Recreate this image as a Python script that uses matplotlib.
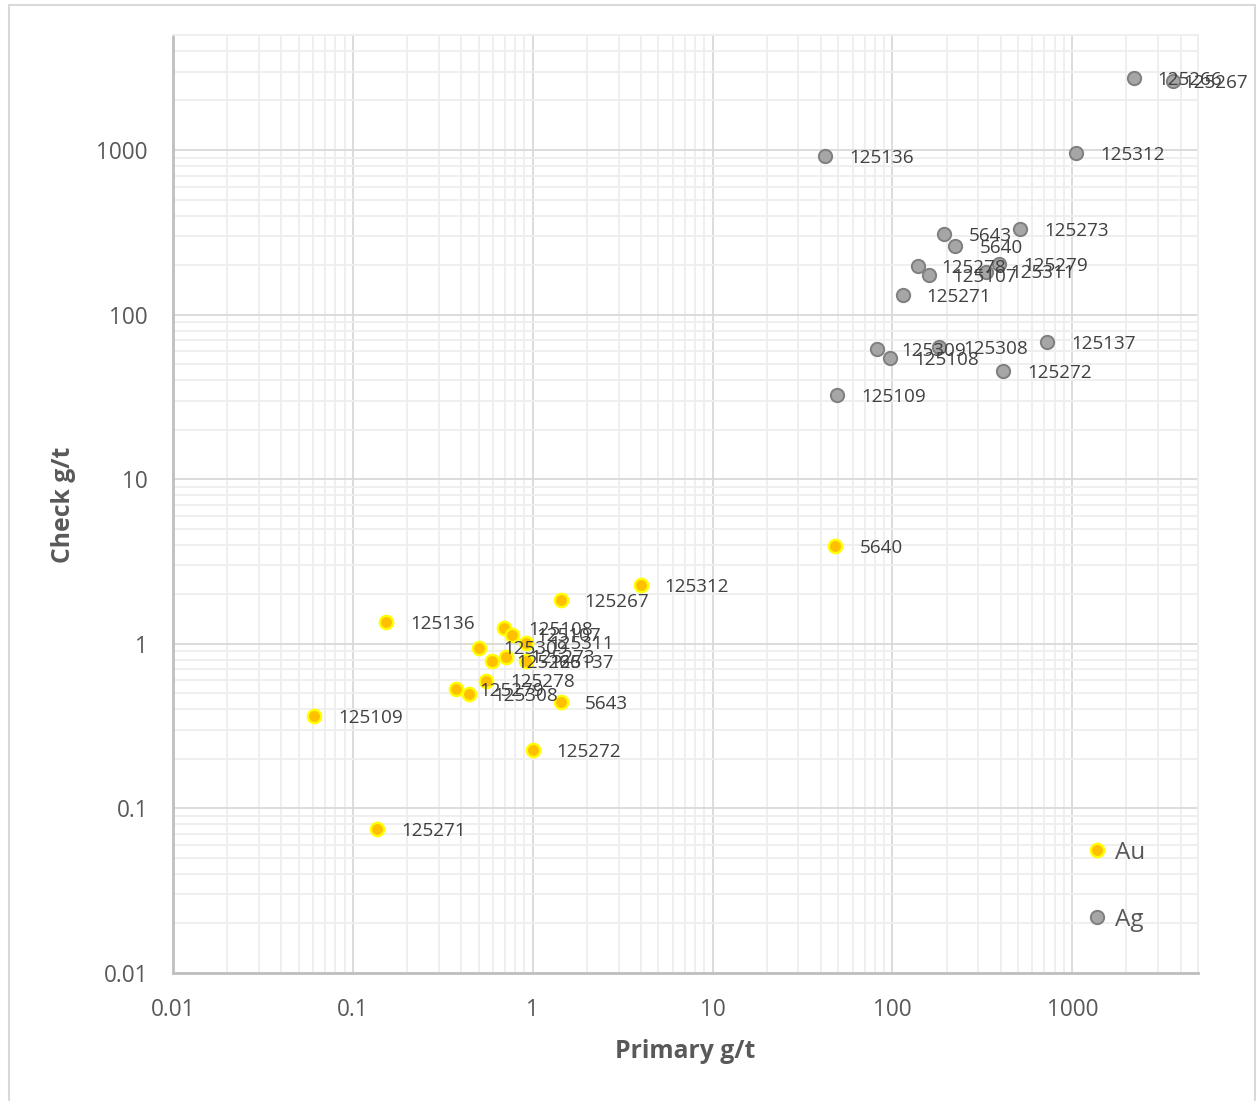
import matplotlib
matplotlib.use("Agg")
import matplotlib.pyplot as plt
from matplotlib.ticker import LogLocator, FuncFormatter, NullFormatter
from matplotlib.patches import Rectangle
from matplotlib.lines import Line2D

# Sample IDs and assay pairs (primary vs check), gold
au_ids = ["5640", "125312", "125267", "125136", "125109", "125271", "125272", "5643",
          "125108", "125107", "125311", "125309", "125273", "125266", "125137",
          "125278", "125279", "125308"]
au_primary = [48.2, 3.98, 1.43, 0.153, 0.0607, 0.136, 1.0, 1.44,
              0.694, 0.771, 0.914, 0.503, 0.714, 0.597, 0.914,
              0.553, 0.373, 0.443]
au_check = [3.93, 2.28, 1.84, 1.36, 0.364, 0.075, 0.226, 0.443,
            1.24, 1.136, 1.016, 0.947, 0.835, 0.786, 0.786,
            0.597, 0.529, 0.496]

# Silver
ag_ids = ["125266", "125267", "125136", "125312", "5643", "5640", "125273", "125278",
          "125107", "125279", "125311", "125271", "125309", "125108", "125308",
          "125137", "125272", "125109"]
ag_primary = [2192, 3640, 42.4, 1052, 194.5, 224, 514, 138,
              159, 393, 331, 114, 81.9, 97, 182,
              723, 414, 49.4]
ag_check = [2730, 2624, 918, 959, 309, 261, 330, 197,
            174, 202, 182, 131, 61.8, 54.2, 63.2,
            67.9, 45.4, 32.4]

tick_values = [0.01, 0.1, 1, 10, 100, 1000]
axis_min, axis_max = 0.01, 5000

FONT = "Open Sans"
TEXT = "#595959"
LABEL = "#404040"

W, H, DPI = 1257, 1101, 100
fig = plt.figure(figsize=(W / DPI, H / DPI), dpi=DPI)
fig.patch.set_facecolor("white")

# chart-area border
fig.patches.append(Rectangle((9 / W, -0.01), (1255 - 9) / W, 1 - 5 / H + 0.01,
                             transform=fig.transFigure, fill=False,
                             edgecolor="#d9d9d9", linewidth=1.5))

ax = fig.add_axes([173 / W, 1 - 973 / H, (1198 - 173) / W, (973 - 35) / H])
ax.set_xscale("log")
ax.set_yscale("log")
ax.set_xlim(axis_min, axis_max)
ax.set_ylim(axis_min, axis_max)

for axis in (ax.xaxis, ax.yaxis):
    axis.set_major_locator(LogLocator(base=10, numticks=20))
    axis.set_minor_locator(LogLocator(base=10, subs=range(2, 10), numticks=20))
    axis.set_minor_formatter(NullFormatter())
ax.set_xticks(tick_values)
ax.set_yticks(tick_values)
fmt = FuncFormatter(lambda v, p: f"{v:g}")
ax.xaxis.set_major_formatter(fmt)
ax.yaxis.set_major_formatter(fmt)

ax.grid(which="major", color="#d9d9d9", linewidth=1.3, zorder=0)
ax.grid(which="minor", color="#eeeeee", linewidth=1.3, zorder=0)
ax.set_axisbelow(True)
ax.tick_params(which="both", length=0)
ax.tick_params(axis="x", pad=18, labelsize=16.3, labelcolor=TEXT)
ax.tick_params(axis="y", pad=18, labelsize=16.3, labelcolor=TEXT)
for lab in ax.get_xticklabels() + ax.get_yticklabels():
    lab.set_fontfamily(FONT)

for side in ("top", "right"):
    ax.spines[side].set_color("#eeeeee")
    ax.spines[side].set_linewidth(1.3)
for side in ("left", "bottom"):
    ax.spines[side].set_color("#bfbfbf")
    ax.spines[side].set_linewidth(2)

ax.set_xlabel("Primary g/t", fontsize=17.8, fontweight="bold", color=TEXT, family=FONT)
ax.set_ylabel("Check g/t", fontsize=17.8, fontweight="bold", color=TEXT, family=FONT)
ax.xaxis.set_label_coords(0.5, -0.084)
ax.yaxis.set_label_coords(-0.107, 0.499)
ax.xaxis.label.set_va("center")
ax.yaxis.label.set_va("center")

ms = 92
ax.scatter(au_primary, au_check, s=ms, facecolor="#ffc000", edgecolor="#ffff00",
           linewidth=1.7, zorder=3, clip_on=False)
ax.scatter(ag_primary, ag_check, s=ms, facecolor="#a6a6a6", edgecolor="#7f7f7f",
           linewidth=1.4, zorder=3, clip_on=False)

annotations = []
for ids, xs, ys in ((au_ids, au_primary, au_check), (ag_ids, ag_primary, ag_check)):
    for name, x, y in zip(ids, xs, ys):
        a = ax.annotate(name, (x, y), xytext=(17.3, -1.2), textcoords="offset points",
                        ha="left", va="center", fontsize=13.6, family=FONT,
                        color=LABEL, zorder=5, annotation_clip=False)
        annotations.append(a)

# keep data labels inside the chart area
fig.canvas.draw()
renderer = fig.canvas.get_renderer()
right_limit = 1248
for a in annotations:
    bb = a.get_window_extent(renderer)
    if bb.x1 > right_limit:
        dx = (right_limit - bb.x1) * 72 / DPI
        ox, oy = a.xyann
        a.xyann = (ox + dx, oy)

handles = [
    Line2D([], [], linestyle="none", marker="o", markersize=9.6,
           markerfacecolor="#ffc000", markeredgecolor="#ffff00", markeredgewidth=1.7),
    Line2D([], [], linestyle="none", marker="o", markersize=9.6,
           markerfacecolor="#a6a6a6", markeredgecolor="#7f7f7f", markeredgewidth=1.4),
]
leg = ax.legend(handles, ["Au", "Ag"], loc="center left",
                bbox_to_anchor=(0.892, 0.0925), frameon=False,
                prop={"family": FONT, "size": 17.5}, labelcolor=TEXT,
                handlelength=0.8, handletextpad=0.35, labelspacing=1.75,
                borderpad=0, borderaxespad=0)

fig.savefig("out.png", dpi=DPI, facecolor="white")
